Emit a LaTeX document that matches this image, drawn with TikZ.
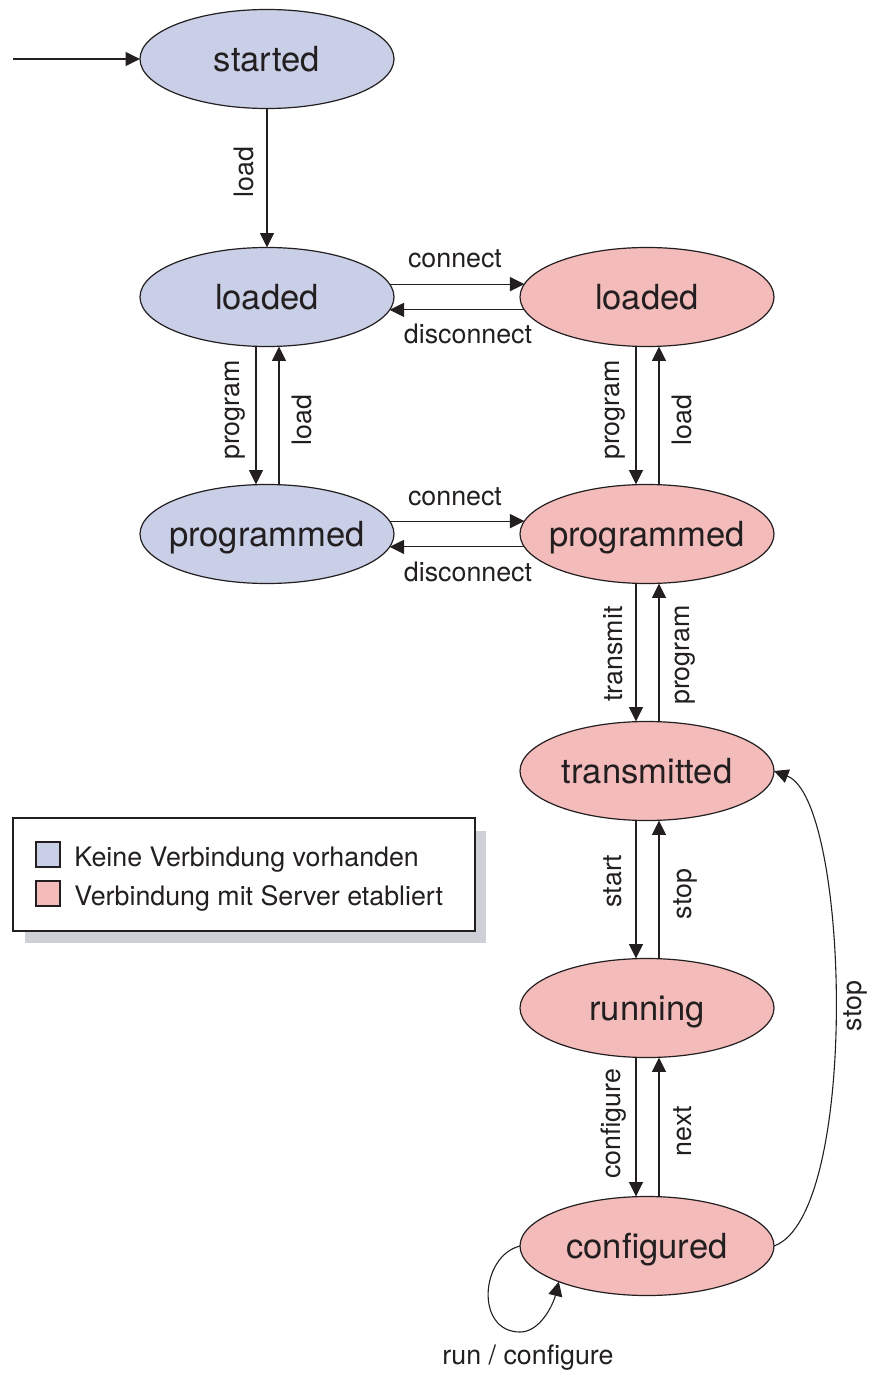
\documentclass[tikz,border=0pt]{standalone}
\usepackage{fontspec}
\setmainfont{TeX Gyre Heros}
\usetikzlibrary{shapes.geometric,arrows.meta}
\definecolor{stblue}{RGB}{201,207,231}
\definecolor{stpink}{RGB}{243,188,187}
\definecolor{ink}{RGB}{35,31,32}
\definecolor{shadowgray}{RGB}{205,208,214}
\newcommand{\sttext}[1]{\makebox[0pt]{#1}}
\begin{document}
\begin{tikzpicture}[x=0.5pt,y=-0.5pt,
 state/.style={ellipse, draw=ink, line width=0.6pt, minimum width=127pt, minimum height=49.5pt,
   inner sep=0pt, outer sep=0pt, text height=12.6pt, text depth=0pt,
   font=\fontsize{17.3}{20}\selectfont, text=ink},
 off/.style={state, fill=stblue},
 on/.style={state, fill=stpink},
 arr/.style={draw=ink, line width=0.55pt, -{Triangle[length=7.2pt,width=7pt]}},
 lbl/.style={font=\fontsize{13.4}{16}\selectfont, text=ink, inner sep=0pt},
 vlbl/.style={lbl, rotate=90},
 legsq/.style={draw=ink, line width=0.6pt, minimum width=12pt, minimum height=12.5pt, inner sep=0pt},
]
\useasboundingbox (0,0) rectangle (869,1374);

% states
\node[off] (st) at (267,59)   {\sttext{started}};
\node[off] (bl) at (267,297)  {\sttext{loaded}};
\node[off] (bp) at (267,534)  {\sttext{programmed}};
\node[on]  (rl) at (647,297)  {\sttext{loaded}};
\node[on]  (rp) at (647,534)  {\sttext{programmed}};
\node[on]  (rt) at (647,771)  {\sttext{transmitted}};
\node[on]  (rr) at (647,1008) {\sttext{running}};
\node[on]  (rc) at (647,1246) {\sttext{configured}};

% initial arrow
\coordinate (init) at (13,59);
\draw[arr] (init) -- (st.west);

% started -> loaded
\draw[arr] (st) -- (bl);
\node[vlbl] (l1) at (244,172) {load};

% left pair
\draw[arr] ([xshift=-5.5pt]bl.south) -- ([xshift=-5.5pt]bp.north);
\draw[arr] ([xshift=6pt]bp.north) -- ([xshift=6pt]bl.south);
\node[vlbl] (l2) at (235,410) {program};
\node[vlbl] (l3) at (302,420) {load};

% horizontal connect / disconnect
\draw[arr] (bl.6) -- (rl.174);
\draw[arr] (rl.186) -- (bl.-6);
\node[lbl] (l4) at (455,259) {connect};
\node[lbl] (l5) at (468,334) {disconnect};
\draw[arr] (bp.6) -- (rp.174);
\draw[arr] (rp.186) -- (bp.-6);
\node[lbl] (l6) at (455,497) {connect};
\node[lbl] (l7) at (468,572) {disconnect};

% right column pairs
\draw[arr] ([xshift=-5.5pt]rl.south) -- ([xshift=-5.5pt]rp.north);
\draw[arr] ([xshift=6pt]rp.north) -- ([xshift=6pt]rl.south);
\node[vlbl] (l8) at (615,410) {program};
\node[vlbl] (l9) at (682,420) {load};

\draw[arr] ([xshift=-5.5pt]rp.south) -- ([xshift=-5.5pt]rt.north);
\draw[arr] ([xshift=6pt]rt.north) -- ([xshift=6pt]rp.south);
\node[vlbl] (l10) at (613,654) {transmit};
\node[vlbl] (l11) at (685,655) {program};

\draw[arr] ([xshift=-5.5pt]rt.south) -- ([xshift=-5.5pt]rr.north);
\draw[arr] ([xshift=6pt]rr.north) -- ([xshift=6pt]rt.south);
\node[vlbl] (l12) at (613,881) {start};
\node[vlbl] (l13) at (685,894) {stop};

\draw[arr] ([xshift=-5.5pt]rr.south) -- ([xshift=-5.5pt]rc.north);
\draw[arr] ([xshift=6pt]rc.north) -- ([xshift=6pt]rr.south);
\node[vlbl] (l14) at (614,1124) {configure};
\node[vlbl] (l15) at (683,1131) {next};

% long stop curve
\draw[arr] (rc.east) .. controls (860,1215) and (850,800) .. (rt.east);
\node[vlbl] (l16) at (855,1006) {stop};

% self loop
\draw[arr] (rc.west) .. controls (480,1256) and (475,1332) .. (520,1332)
  .. controls (540,1332) and (553,1305) .. (rc.202);
\node[lbl] (l17) at (528,1358) {run / configure};

% legend
\fill[shadowgray] (25,831) rectangle (486,943);
\draw[draw=ink, fill=white, line width=0.6pt] (13,818) rectangle (475,931);
\node[legsq, fill=stblue] (q1) at (48,854.5) {};
\node[legsq, fill=stpink] (q2) at (48,893.5) {};
\node[lbl, anchor=base west] (t1) at (74,866) {Keine Verbindung vorhanden};
\node[lbl, anchor=base west] (t2) at (74,905) {Verbindung mit Server etabliert};
\end{tikzpicture}
\end{document}
